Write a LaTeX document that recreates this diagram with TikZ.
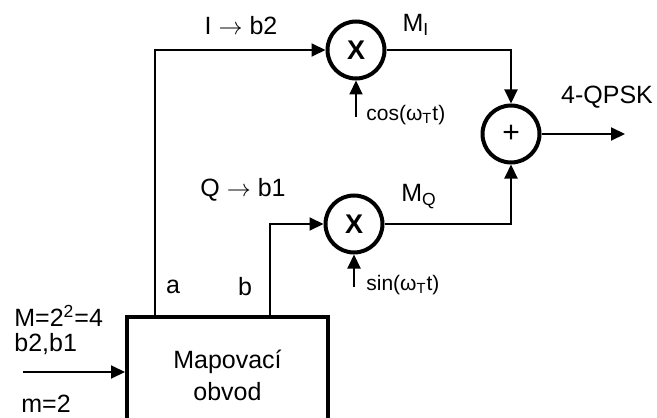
\documentclass[tikz,border=0pt]{standalone}
\usepackage{fontspec}
\setmainfont{Liberation Sans}
\usepackage{amsmath,amssymb}
\usetikzlibrary{arrows.meta}
\tikzset{
  every picture/.style={line join=miter, >={Triangle[length=7pt,width=6.5pt]}},
  sig/.style={line width=1pt},
  mixer/.style={draw, circle, line width=2pt, minimum size=28.5pt, inner sep=0pt, font=\fontsize{13.5}{15}\selectfont\bfseries},
  mapbox/.style={draw, line width=2pt, minimum width=100.5pt, minimum height=58pt, align=center, font=\fontsize{12.5}{16}\selectfont},
  lbl/.style={inner sep=0pt, font=\fontsize{12.5}{15}\selectfont},
  small/.style={inner sep=0pt, anchor=west, font=\fontsize{10.5}{12}\selectfont},
}

\begin{document}
\begin{tikzpicture}[x=0.5pt,y=-0.5pt]
\useasboundingbox (0,0) rectangle (657,417);
% blocks
\node[mapbox] (map) at (227.5,375) {Mapovac\'{\i}\\obvod};
\node[mixer] (mI) at (356,50) {X};
\node[mixer] (mQ) at (354,224) {X};
\node[mixer, font=\fontsize{15}{15}\selectfont] (sum) at (511,134) {+};
% free ends
\coordinate (aout) at (155,317);
\coordinate (bout) at (270,317);
\coordinate (in) at (23,372);
\coordinate (out) at (625,134);
\coordinate (cosin) at (356,117);
\coordinate (sinin) at (354,287);
% connectors
\draw[sig,->] (aout) |- (mI.west);
\draw[sig,->] (bout) |- (mQ.west);
\draw[sig,->] (mI.east) -| (sum.north);
\draw[sig,->] (mQ.east) -| (sum.south);
\draw[sig,->] (sum.east) -- (out);
\draw[sig,->] (cosin) -- (mI.south);
\draw[sig,->] (sinin) -- (mQ.south);
\draw[sig,->] (in) -- (in -| map.west);
% labels
\node[lbl] (lI) at (241,26) {I $\rightarrow$ b2};
\node[lbl] (lQ) at (243,190) {Q $\rightarrow$ b1};
\node[lbl] (lMI) at (416,25) {M\textsubscript{I}};
\node[lbl] (lMQ) at (419,197) {M\textsubscript{Q}};
\node[lbl] (lqpsk) at (607,97) {4-QPSK};
\node[small] (lcos) at (366,115) {cos(ω\textsubscript{T}t)};
\node[small] (lsin) at (366,285) {sin(ω\textsubscript{T}t)};
\node[lbl] (la) at (173,287) {a};
\node[lbl] (lb) at (245,287) {b};
\node[lbl, anchor=west] (lM) at (14,316) {M=2\textsuperscript{2}=4};
\node[lbl, anchor=west] (lbits) at (14,344) {b2,b1};
\node[lbl, anchor=west] (lm) at (21,404) {m=2};
\end{tikzpicture}
\end{document}
